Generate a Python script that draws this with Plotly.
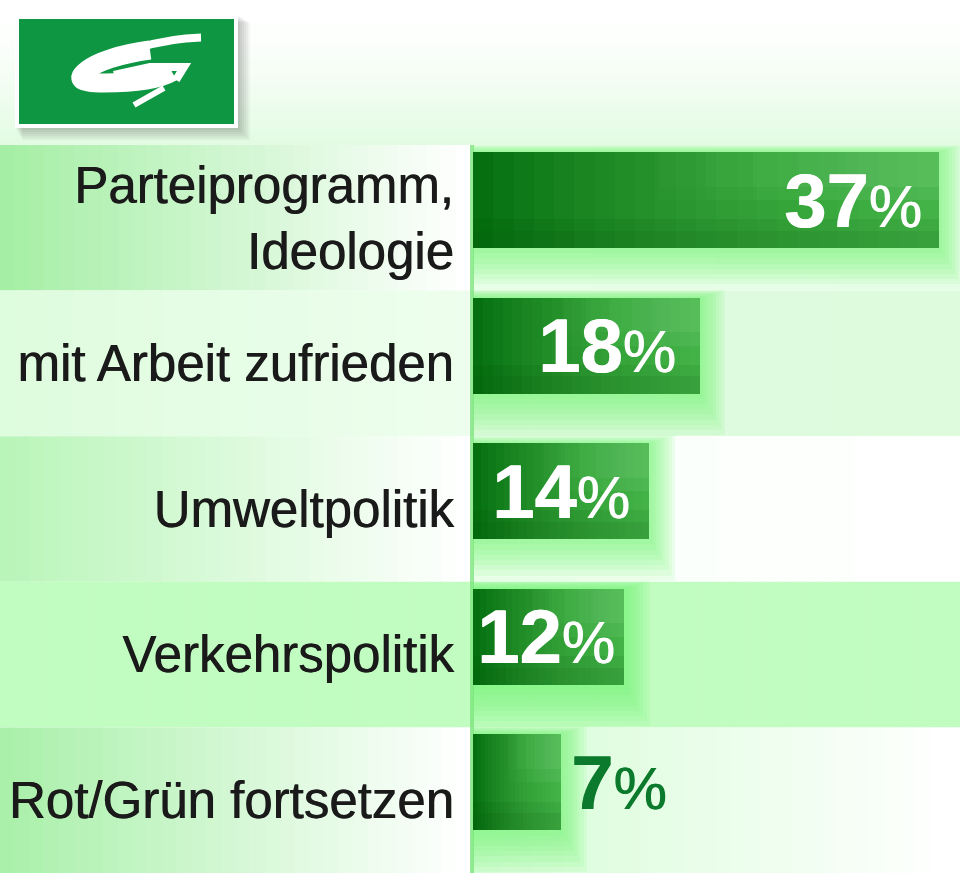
import plotly.graph_objects as go

# ---------------- data ----------------
categories = ["Parteiprogramm,<br>Ideologie", "mit Arbeit zufrieden", "Umweltpolitik",
              "Verkehrspolitik", "Rot/Grün fortsetzen"]
values = [37, 18, 14, 12, 7]
value_labels = ["37", "18", "14", "12", "7"]

# ---------------- layout constants ----------------
W, H = 960, 873
X0 = 473            # pixel where the value axis starts
PX_PER = 12.6       # pixels per percent
TOP = 145           # top of the first band
XMAX = (W - X0) / PX_PER
BAND = (H - TOP) / len(categories)
BAR_OFF = -0.452
BAR_W = 0.66
LABEL_FONT = "Liberation Sans, Arial, sans-serif"
label_shifts = [-15, -22, -17, -7, 8]

pos = list(range(len(categories)))


def px_x(x):
    return x / W


def px_y(y):
    return 1 - y / H


def rgb(c):
    return "rgb(%d,%d,%d)" % tuple(int(round(v)) for v in c)


shapes = []


def rect_px(x0, y0, x1, y1, color, layer="below"):
    shapes.append(dict(type="rect", xref="paper", yref="paper",
                       x0=px_x(x0), x1=px_x(x1), y0=px_y(y1), y1=px_y(y0),
                       fillcolor=color, line=dict(width=0), layer=layer))


def hgrad_band(x0, x1, band_i, c0, c1, n=32):
    step = (x1 - x0) / n
    for k in range(n):
        t = k / (n - 1)
        c = [c0[j] + (c1[j] - c0[j]) * t for j in range(3)]
        shapes.append(dict(type="rect", xref="paper", yref="y",
                           x0=px_x(x0 + k * step), x1=px_x(x0 + (k + 1) * step + 0.6),
                           y0=band_i - 0.5, y1=band_i + 0.5,
                           fillcolor=rgb(c), line=dict(width=0), layer="below"))


# header vertical gradient
n = 24
for k in range(n):
    t = (k / (n - 1)) ** 1.6
    c = [255 + (226 - 255) * t, 255 + (251 - 255) * t, 255 + (226 - 255) * t]
    rect_px(0, k * TOP / n, W, (k + 1) * TOP / n + 0.6, rgb(c))

# bands: (left start, left end, right start, right end)
band_cols = [
    ((165, 238, 165), (255, 255, 255), (246, 255, 246), (244, 254, 244)),
    ((222, 252, 222), (238, 254, 238), (224, 251, 224), (222, 251, 222)),
    ((185, 245, 185), (255, 255, 255), (248, 255, 248), (255, 255, 255)),
    ((193, 252, 193), (193, 252, 193), (193, 252, 193), (193, 252, 193)),
    ((170, 240, 170), (255, 255, 255), (214, 252, 214), (255, 255, 255)),
]
for i, (l0, l1, r0, r1) in enumerate(band_cols):
    hgrad_band(0, X0 - 2, i, l0, l1)
    hgrad_band(X0 - 2, W, i, r0, r1)

# thin green line at the value-axis start
rect_px(X0 - 3, TOP, X0 + 1, H, "rgba(120,225,120,0.75)")

# logo: shadow, frame, green box, white brush "G"
for k in range(1, 7):
    rect_px(15 + k * 1.2, 15 + k * 1.2, 238 + k * 2.0, 128 + k * 2.0, "rgba(0,0,0,0.04)")
rect_px(15, 15, 238, 128, "white")
rect_px(19, 19, 234, 124, "#0e9642")


def pth(cmds):
    out = []
    for c in cmds:
        if isinstance(c, str):
            out.append(c)
        else:
            out.append("%.5f,%.5f" % (px_x(c[0]), px_y(c[1])))
    return " ".join(out)


# thin tip of the upper sweep
shapes.append(dict(type="path", xref="paper", yref="paper", layer="above",
                   path=pth(["M", (201, 37.5), "C", (178, 38), (158, 42), (138, 48)]),
                   line=dict(color="white", width=8)))
# thick body of the G
shapes.append(dict(type="path", xref="paper", yref="paper", layer="above",
                   path=pth(["M", (150, 50), "C", (120, 54), (97, 62), (87, 70),
                             "C", (75, 79), (80, 83), (104, 83),
                             "C", (134, 83), (158, 80), (172, 72)]),
                   line=dict(color="white", width=19)))
# hook + crossbar
shapes.append(dict(type="path", xref="paper", yref="paper", layer="above",
                   path=pth(["M", (176, 80), "L", (184, 67), "L", (150, 67), "L", (114, 75)]),
                   line=dict(color="white", width=8)))
# tail
shapes.append(dict(type="path", xref="paper", yref="paper", layer="above",
                   path=pth(["M", (164, 88), "L", (134, 105)]),
                   line=dict(color="white", width=6)))

# ---------------- traces ----------------
fig = go.Figure()

# glow behind bars
for k in range(1, 9):
    dx = 3.2 * k / PX_PER
    up = 1.0 * k / BAND
    down = 5.2 * k / BAND
    fig.add_trace(go.Bar(
        y=pos, x=[v + dx for v in values], orientation="h",
        offset=BAR_OFF - up, width=BAR_W + up + down,
        marker=dict(color="rgba(110,250,110,0.11)", line=dict(width=0)),
        hoverinfo="skip", showlegend=False))

# main bar
fig.add_trace(go.Bar(
    y=pos, x=values, orientation="h", offset=BAR_OFF, width=BAR_W,
    marker=dict(color="#067010", line=dict(width=0)),
    hoverinfo="skip", showlegend=False))

# horizontal lightening towards the bar end
N = 22
for j in range(1, N + 1):
    f = j / (N + 1)
    fig.add_trace(go.Bar(
        y=pos, x=[v * (1 - f) for v in values], base=[v * f for v in values],
        orientation="h", offset=BAR_OFF, width=BAR_W,
        marker=dict(color="rgba(110,235,110,0.045)", line=dict(width=0)),
        hoverinfo="skip", showlegend=False))

# soft top highlight and bottom shade
for f in [0.4, 0.5, 0.6, 0.7, 0.8]:
    for frac in [0.5, 0.36]:
        fig.add_trace(go.Bar(
            y=pos, x=[v * (1 - f) for v in values], base=[v * f for v in values],
            orientation="h", offset=BAR_OFF, width=BAR_W * frac,
            marker=dict(color="rgba(150,255,150,0.025)", line=dict(width=0)),
            hoverinfo="skip", showlegend=False))
for frac in [0.3, 0.18]:
    fig.add_trace(go.Bar(
        y=pos, x=values, orientation="h", offset=BAR_OFF + BAR_W * (1 - frac), width=BAR_W * frac,
        marker=dict(color="rgba(0,70,0,0.08)", line=dict(width=0)),
        hoverinfo="skip", showlegend=False))

# ---------------- value labels ----------------
annotations = []
for i, (v, lab) in enumerate(zip(values, value_labels)):
    inside = v >= 10
    col = "white" if inside else "#0c7a2c"
    annotations.append(dict(
        x=v, y=pos[i] + BAR_OFF + BAR_W / 2, xref="x", yref="y",
        text="<b>%s</b><span style='font-size:60px;font-weight:normal'>%%</span>" % lab,
        showarrow=False, xanchor="right" if inside else "left",
        xshift=label_shifts[i], yanchor="middle",
        font=dict(family=LABEL_FONT, size=76, color=col,
                  shadow="0.8px 0 0 %s" % col)))

fig.update_layout(
    width=W, height=H,
    margin=dict(l=0, r=0, t=0, b=0),
    paper_bgcolor="white", plot_bgcolor="rgba(0,0,0,0)",
    barmode="overlay", bargap=0,
    shapes=shapes, annotations=annotations,
    xaxis=dict(domain=[X0 / W, 1], range=[0, XMAX], visible=False, fixedrange=True),
    yaxis=dict(domain=[0, (H - TOP) / H], range=[len(categories) - 0.5, -0.5],
               tickvals=pos, ticktext=categories, ticks="outside", ticklen=8,
               tickcolor="rgba(0,0,0,0)", showgrid=False, zeroline=False, showline=False,
               tickfont=dict(family=LABEL_FONT, size=51, color="#1a1a1a",
                             shadow="0.7px 0 0 #1a1a1a"),
               automargin=False, fixedrange=True),
    showlegend=False,
)

fig.write_html("out.html", config={"displayModeBar": False},
               post_script="document.body.style.margin='0';document.body.style.overflow='hidden';")
